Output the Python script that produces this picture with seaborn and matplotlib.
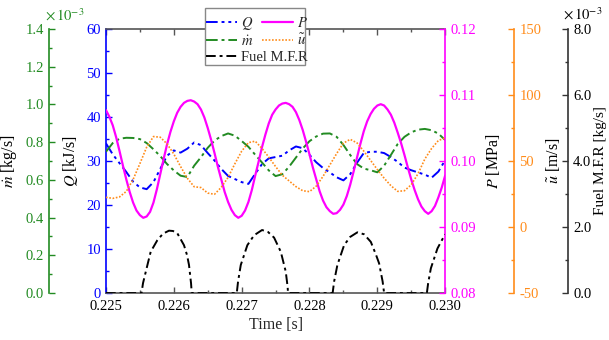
import matplotlib
matplotlib.use("Agg")
import matplotlib.pyplot as plt
from matplotlib.ticker import MultipleLocator, FormatStrFormatter
from matplotlib.patches import Rectangle
import seaborn as sns

# ------------------------------------------------------------------
# data (time in s)
# ------------------------------------------------------------------
time_s = [0.2250, 0.2251, 0.2252, 0.2253, 0.2254, 0.2255, 0.2256, 0.2257, 0.2258, 0.2259,
          0.2260, 0.2261, 0.2262, 0.2263, 0.2264, 0.2265, 0.2266, 0.2267, 0.2268, 0.2269,
          0.2270, 0.2271, 0.2272, 0.2273, 0.2274, 0.2275, 0.2276, 0.2277, 0.2278, 0.2279,
          0.2280, 0.2281, 0.2282, 0.2283, 0.2284, 0.2285, 0.2286, 0.2287, 0.2288, 0.2289,
          0.2290, 0.2291, 0.2292, 0.2293, 0.2294, 0.2295, 0.2296, 0.2297, 0.2298, 0.2299,
          0.2300]

heat_q = [34.0, 31.5, 29.5, 27.5, 25.3, 24.0, 23.6, 25.2, 28.2, 31.2,
          32.4, 31.9, 32.8, 34.2, 33.6, 31.8, 30.1, 28.2, 26.6, 25.9,
          25.2, 24.8, 27.1, 29.3, 30.6, 30.9, 31.2, 32.4, 33.3, 32.9,
          31.4, 29.7, 28.4, 27.4, 26.3, 25.6, 27.0, 29.6, 31.8, 32.1,
          32.1, 31.8, 30.9, 29.8, 28.5, 27.9, 27.4, 26.9, 26.2, 27.6,
          30.2]

# pressure is read on a finer time base (every 0.05 ms)
p_time = [0.22500, 0.22505, 0.22510, 0.22515, 0.22520, 0.22525, 0.22530, 0.22535, 0.22540, 0.22545,
          0.22550, 0.22555, 0.22560, 0.22565, 0.22570, 0.22575, 0.22580, 0.22585, 0.22590, 0.22595,
          0.22600, 0.22605, 0.22610, 0.22615, 0.22620, 0.22625, 0.22630, 0.22635, 0.22640, 0.22645,
          0.22650, 0.22655, 0.22660, 0.22665, 0.22670, 0.22675, 0.22680, 0.22685, 0.22690, 0.22695,
          0.22700, 0.22705, 0.22710, 0.22715, 0.22720, 0.22725, 0.22730, 0.22735, 0.22740, 0.22745,
          0.22750, 0.22755, 0.22760, 0.22765, 0.22770, 0.22775, 0.22780, 0.22785, 0.22790, 0.22795,
          0.22800, 0.22805, 0.22810, 0.22815, 0.22820, 0.22825, 0.22830, 0.22835, 0.22840, 0.22845,
          0.22850, 0.22855, 0.22860, 0.22865, 0.22870, 0.22875, 0.22880, 0.22885, 0.22890, 0.22895,
          0.22900, 0.22905, 0.22910, 0.22915, 0.22920, 0.22925, 0.22930, 0.22935, 0.22940, 0.22945,
          0.22950, 0.22955, 0.22960, 0.22965, 0.22970, 0.22975, 0.22980, 0.22985, 0.22990, 0.22995,
          0.23000]
pressure = [0.1077, 0.1067, 0.1054, 0.1036, 0.1015, 0.0993, 0.0972, 0.0953, 0.0937, 0.0925,
            0.0918, 0.0914, 0.0916, 0.0923, 0.0937, 0.0957, 0.0980, 0.1003, 0.1025, 0.1044,
            0.1060, 0.1073, 0.1082, 0.1088, 0.1091, 0.1092, 0.1090, 0.1086, 0.1078, 0.1066,
            0.1050, 0.1032, 0.1012, 0.0991, 0.0972, 0.0953, 0.0938, 0.0926, 0.0918, 0.0914,
            0.0917, 0.0925, 0.0938, 0.0956, 0.0978, 0.0999, 0.1021, 0.1040, 0.1057, 0.1070,
            0.1078, 0.1084, 0.1087, 0.1088, 0.1086, 0.1082, 0.1074, 0.1062, 0.1047, 0.1029,
            0.1010, 0.0990, 0.0972, 0.0954, 0.0940, 0.0930, 0.0924, 0.0920, 0.0921, 0.0926,
            0.0934, 0.0947, 0.0964, 0.0984, 0.1005, 0.1026, 0.1045, 0.1060, 0.1071, 0.1079,
            0.1084, 0.1086, 0.1084, 0.1078, 0.1070, 0.1058, 0.1043, 0.1027, 0.1009, 0.0990,
            0.0972, 0.0956, 0.0942, 0.0931, 0.0924, 0.0920, 0.0924, 0.0932, 0.0945, 0.0960,
            0.0978]

# air mass flow, in units of 1e-3 kg/s
mdot_e3 = [0.749, 0.795, 0.818, 0.823, 0.822, 0.816, 0.795, 0.762, 0.726, 0.684,
           0.650, 0.622, 0.615, 0.675, 0.720, 0.770, 0.808, 0.832, 0.846, 0.834,
           0.806, 0.775, 0.733, 0.692, 0.650, 0.620, 0.630, 0.670, 0.718, 0.766,
           0.805, 0.830, 0.845, 0.846, 0.828, 0.785, 0.732, 0.684, 0.660, 0.651,
           0.640, 0.675, 0.732, 0.790, 0.828, 0.852, 0.866, 0.870, 0.863, 0.845,
           0.811]

velocity = [22.5, 21.7, 22.8, 27.0, 36.0, 48.0, 60.5, 68.5, 68.0, 63.0,
            55.3, 45.8, 36.9, 30.5, 29.9, 25.7, 24.8, 30.1, 37.6, 47.9,
            57.4, 63.9, 65.0, 59.5, 52.9, 45.8, 39.2, 34.9, 30.6, 27.5,
            26.8, 31.0, 38.4, 47.0, 55.6, 63.5, 66.4, 63.7, 57.5, 50.5,
            43.5, 37.0, 31.3, 27.0, 27.5, 32.0, 40.4, 51.5, 59.5, 65.5,
            67.5]

# fuel mass flow rate, in units of 1e-3 kg/s (own time base, pulses)
fuel_time = [0.225000, 0.225524, 0.225546, 0.225586, 0.225659, 0.225757, 0.225841, 0.225929,
             0.225988, 0.226052, 0.226150, 0.226195, 0.226224, 0.226254, 0.226264,
             0.226928, 0.226947, 0.226987, 0.227084, 0.227183, 0.227301, 0.227389, 0.227478,
             0.227577, 0.227650, 0.227677, 0.227684,
             0.228341, 0.228363, 0.228411, 0.228510, 0.228599, 0.228706, 0.228805, 0.228904,
             0.228982, 0.229026, 0.229078, 0.229100,
             0.229730, 0.229749, 0.229789, 0.229886, 0.229956, 0.230000]
fuel_e3 = [0.0, 0.0, 0.30, 0.64, 1.25, 1.60, 1.80, 1.89,
           1.88, 1.81, 1.45, 1.15, 0.85, 0.30, 0.0,
           0.0, 0.35, 0.85, 1.45, 1.75, 1.91, 1.85, 1.68,
           1.25, 0.65, 0.20, 0.0,
           0.0, 0.35, 0.85, 1.45, 1.70, 1.84, 1.78, 1.55,
           1.15, 0.90, 0.35, 0.0,
           0.0, 0.30, 0.75, 1.35, 1.62, 1.78]

C_Q = "#0000ff"
C_M = "#228b22"
C_P = "#ff00ff"
C_U = "#ff8c1a"
C_F = "#000000"

sns.set_style("ticks")
plt.rcParams["font.family"] = ["Liberation Serif", "DejaVu Serif"]
plt.rcParams["mathtext.fontset"] = "stix"
plt.rcParams["font.size"] = 10

fig = plt.figure(figsize=(6.09, 3.40), dpi=100)
ax_q = fig.add_axes([0.174, 0.138, 0.557, 0.777])
ax_m = ax_q.twinx()
ax_p = ax_q.twinx()
ax_u = ax_q.twinx()
ax_f = ax_q.twinx()

sns.lineplot(x=time_s, y=heat_q, ax=ax_q, color=C_Q, lw=1.4, estimator=None,
             linestyle=(0, (6, 2, 1.5, 2, 1.5, 2)))
sns.lineplot(x=time_s, y=mdot_e3, ax=ax_m, color=C_M, lw=1.4, estimator=None,
             linestyle=(0, (6, 2, 1.5, 2)))
sns.lineplot(x=fuel_time, y=fuel_e3, ax=ax_f, color=C_F, lw=1.4, estimator=None,
             linestyle=(0, (5, 2, 1.5, 2)))
sns.lineplot(x=time_s, y=velocity, ax=ax_u, color=C_U, lw=1.2, estimator=None,
             linestyle=(0, (1, 1)))
sns.lineplot(x=p_time, y=pressure, ax=ax_p, color=C_P, lw=1.6, estimator=None)


def style_y(ax, side, pos, color, label, ylim, major, minor, fmt, pad, lab_color=None,
            lab_size=11.5):
    for s in ax.spines.values():
        s.set_visible(False)
    sp = ax.spines[side]
    sp.set_visible(True)
    sp.set_color(color)
    sp.set_linewidth(1.2)
    if pos is not None:
        sp.set_position(("axes", pos))
    if side == "left":
        ax.yaxis.tick_left()
        ax.yaxis.set_label_position("left")
    else:
        ax.yaxis.tick_right()
        ax.yaxis.set_label_position("right")
    ax.set_ylim(ylim)
    ax.yaxis.set_major_locator(MultipleLocator(major))
    ax.yaxis.set_minor_locator(MultipleLocator(minor))
    ax.yaxis.set_major_formatter(FormatStrFormatter(fmt))
    ax.tick_params(axis="y", which="both", direction="in", color=color,
                   labelcolor=lab_color or color, labelsize=10.5)
    ax.tick_params(axis="y", which="major", length=4, width=1)
    ax.tick_params(axis="y", which="minor", length=2, width=1)
    ax.set_ylabel(label, fontsize=lab_size, labelpad=pad, color="black")


style_y(ax_q, "left", None, C_Q, "$Q$ [kJ/s]", (0, 60), 10, 5, "%d", 5)
style_y(ax_m, "left", -0.168, C_M, r"$\dot{m}$ [kg/s]", (0, 1.4), 0.2, 0.1, "%.1f", 5)
style_y(ax_p, "right", None, C_P, "$P$ [MPa]", (0.08, 0.12), 0.01, 0.005, "%.2f", 6)
style_y(ax_u, "right", 1.204, C_U, r"$\tilde{u}$ [m/s]", (-50, 150), 50, 25, "%d", 2)
style_y(ax_f, "right", 1.363, "#333333", "Fuel M.F.R [kg/s]", (0, 8), 2, 1, "%.1f", 1.5,
        lab_color="black", lab_size=11)

# frame of the main axes
for side in ["top", "bottom"]:
    ax_q.spines[side].set_visible(True)
    ax_q.spines[side].set_color("#555555")
    ax_q.spines[side].set_linewidth(1.2)
ax_q.set_xlim(0.225, 0.230)
ax_q.xaxis.set_major_locator(MultipleLocator(0.001))
ax_q.xaxis.set_minor_locator(MultipleLocator(0.0005))
ax_q.xaxis.set_major_formatter(FormatStrFormatter("%.3f"))
ax_q.tick_params(axis="x", which="both", direction="in", top=True, bottom=True,
                 color="#555555", labelcolor="black", labelsize=10.5, pad=5)
ax_q.tick_params(axis="x", which="major", length=4, width=1)
ax_q.tick_params(axis="x", which="minor", length=2, width=1)
ax_q.set_xlabel("Time [s]", fontsize=11.5, labelpad=3)

# exponent markers
fig.text(45 / 609, 1 - 15 / 340, r"$\times\,10^{-3}$", color=C_M, fontsize=10.5,
         ha="left", va="center")
fig.text(563 / 609, 1 - 14 / 340, r"$\times\,10^{-3}$", color="black", fontsize=10.5,
         ha="left", va="center")

for ax in [ax_q, ax_m, ax_p, ax_u, ax_f]:
    if ax.get_legend() is not None:
        ax.get_legend().remove()

# legend: two rows of pairs and a fuel row, inside one frame
h_q, h_m, h_p, h_u, h_f = (ax_q.lines[0], ax_m.lines[0], ax_p.lines[0],
                           ax_u.lines[0], ax_f.lines[0])
fig.add_artist(Rectangle((205 / 609, 1 - 65 / 340), 100 / 609, 57 / 340,
                         transform=fig.transFigure, facecolor="white",
                         edgecolor="#888888", lw=1.0, zorder=4))
leg_kw = dict(frameon=False, fontsize=10.5, handlelength=2.1, handletextpad=0.3,
              labelspacing=0.15, borderpad=0.0, borderaxespad=0.0, columnspacing=0.6)
leg1 = fig.legend([h_q, h_m, h_p, h_u], ["$Q$", r"$\dot{m}$", "$P$", r"$\tilde{u}$"],
                  ncol=2, loc="upper left", bbox_to_anchor=(206 / 609, 1 - 15 / 340), **leg_kw)
leg2 = fig.legend([h_f], ["Fuel M.F.R"], loc="upper left",
                  bbox_to_anchor=(206 / 609, 1 - 51 / 340), **leg_kw)
leg1.set_zorder(5)
leg2.set_zorder(5)

fig.savefig("out.png", dpi=100)
